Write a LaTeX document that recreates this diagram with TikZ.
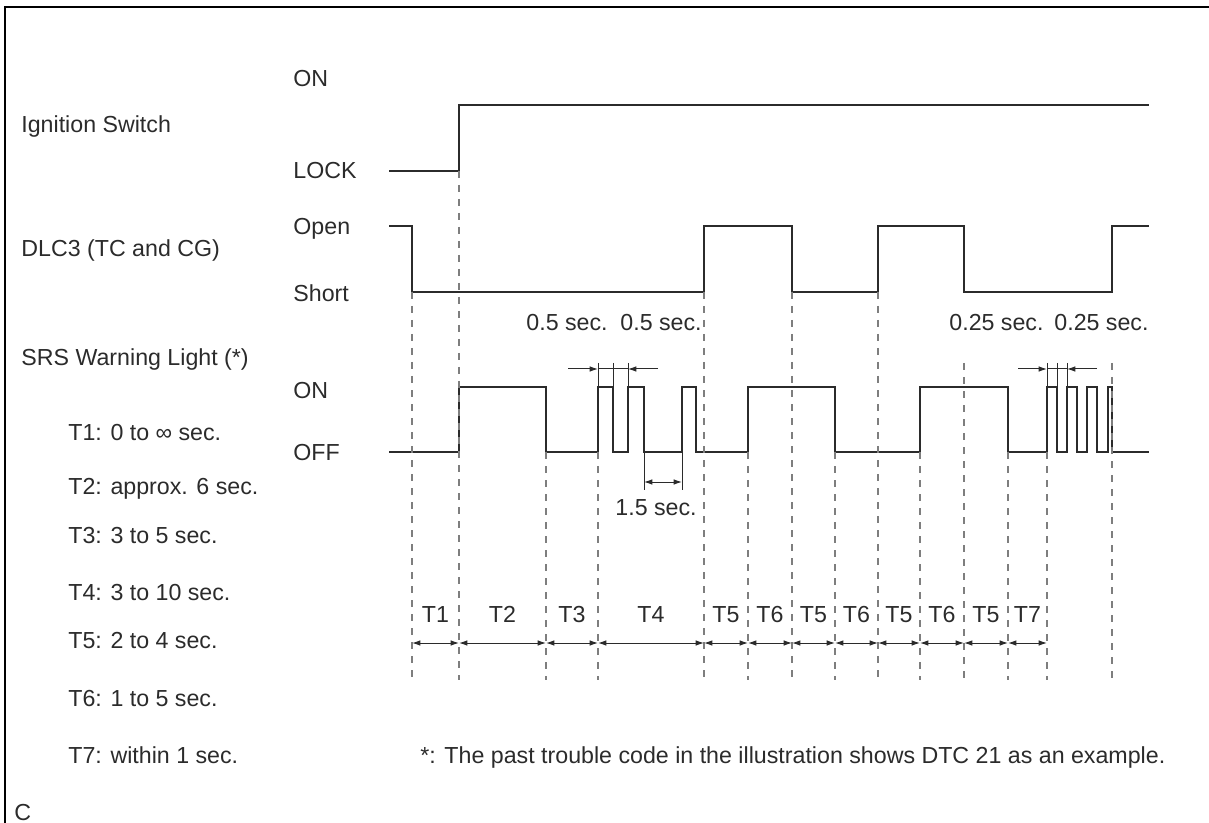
\documentclass[tikz,border=0pt]{standalone}
\usepackage{fontspec}
\setmainfont{Liberation Sans}
\usetikzlibrary{arrows.meta}
\definecolor{Ink}{HTML}{2B2B2B}
\definecolor{GuideGray}{HTML}{7E7E7E}

\begin{document}
\begin{tikzpicture}[x=0.5pt,y=-0.5pt,>={Latex[length=4.2pt,width=2.8pt]},
  every node/.style={font=\fontsize{11.6}{14}\selectfont,anchor=base west,inner sep=0pt,text=Ink},
  wave/.style={Ink,line width=1.3pt},
  guide/.style={GuideGray,line width=0.75pt,dash pattern=on 3.5pt off 3.5pt},
  dimline/.style={Ink,line width=0.5pt}]
  \useasboundingbox (0,0) rectangle (1209,823);
  \draw[black,line width=1pt] (5,823) -- (5,7) -- (1209,7);

  % signal names and levels
  \node (ign)  at (21,132.5) {Ignition Switch};
  \node (dlc)  at (21,256.5) {DLC3 (TC and CG)};
  \node (srs)  at (21,365.5) {SRS Warning Light (*)};
  \node (ignon)   at (293,86.5)  {ON};
  \node (ignlock) at (293,178.5) {LOCK};
  \node (dlcopen) at (293,235)   {Open};
  \node (dlcshort) at (293,301.5) {Short};
  \node (srson)  at (293,398.5) {ON};
  \node (srsoff) at (293,460.5) {OFF};

  % time list
  \node (t1) at (68,440.5) {T1: 0 to ∞ sec.};
  \node (t2) at (68,494.5) {T2: approx. 6 sec.};
  \node (t3) at (68,543.5) {T3: 3 to 5 sec.};
  \node (t4) at (68,600.5) {T4: 3 to 10 sec.};
  \node (t5) at (68,648.5) {T5: 2 to 4 sec.};
  \node (t6) at (68,706.5) {T6: 1 to 5 sec.};
  \node (t7) at (68,763.5) {T7: within 1 sec.};
  \node (note) at (420,763.5) {*: The past trouble code in the illustration shows DTC 21 as an example.};
  \node (code) at (14,820.5) {C};

  % waveforms
  \draw[wave] (389,171) -- (459,171) -- (459,105) -- (1149,105);
  \draw[wave] (389,226) -- (412,226) -- (412,292) -- (704,292) -- (704,226) -- (792,226)
    -- (792,292) -- (878,292) -- (878,226) -- (964,226) -- (964,292) -- (1112,292)
    -- (1112,226) -- (1149,226);
  \draw[wave] (389,452) -- (459,452) -- (459,387) -- (546,387) -- (546,452) -- (598,452)
    -- (598,387) -- (613,387) -- (613,452) -- (628,452) -- (628,387) -- (644,387)
    -- (644,452) -- (682,452) -- (682,387) -- (696,387) -- (696,452) -- (748,452)
    -- (748,387) -- (835,387) -- (835,452) -- (920,452) -- (920,387) -- (1008,387)
    -- (1008,452) -- (1047,452) -- (1047,387) -- (1057,387) -- (1057,452) -- (1067,452)
    -- (1067,387) -- (1077,387) -- (1077,452) -- (1087,452) -- (1087,387) -- (1097,387)
    -- (1097,452) -- (1108,452) -- (1108,387) -- (1112,387) -- (1112,452) -- (1149,452);

  % dashed time marks
  \draw[guide] (412,292) -- (412,680);
  \draw[guide] (459,171) -- (459,680);
  \draw[guide] (546,452) -- (546,680);
  \draw[guide] (598,452) -- (598,680);
  \draw[guide] (704,292) -- (704,680);
  \draw[guide] (748,452) -- (748,680);
  \draw[guide] (792,292) -- (792,680);
  \draw[guide] (835,452) -- (835,680);
  \draw[guide] (878,292) -- (878,680);
  \draw[guide] (920,452) -- (920,680);
  \draw[guide] (964,363) -- (964,680);
  \draw[guide] (1008,452) -- (1008,680);
  \draw[guide] (1047,452) -- (1047,680);
  \draw[guide] (1112,363) -- (1112,680);

  % 0.5 sec. pulse widths
  \node (half1) at (526,330.5) {0.5 sec.};
  \node (half2) at (620,330.5) {0.5 sec.};
  \coordinate (h0) at (568,369); \coordinate (h1) at (598,369);
  \coordinate (h2) at (613,369); \coordinate (h3) at (628,369);
  \coordinate (h4) at (658,369);
  \draw[dimline] (598,363) -- (598,387) (613,363) -- (613,387) (628,363) -- (628,387);
  \draw[dimline] (h1) -- (h3);
  \draw[dimline,->] (h0) -- (h1);
  \draw[dimline,->] (h4) -- (h3);

  % 1.5 sec. gap
  \node (gap) at (615,515.5) {1.5 sec.};
  \coordinate (g0) at (644,482); \coordinate (g1) at (682,482);
  \draw[dimline] (644,452) -- (644,490) (682,452) -- (682,490);
  \draw[dimline,<->] (g0) -- (g1);

  % 0.25 sec. pulse widths
  \node (quart1) at (949,330.5) {0.25 sec.};
  \node (quart2) at (1054,330.5) {0.25 sec.};
  \coordinate (q0) at (1018,369); \coordinate (q1) at (1047,369);
  \coordinate (q3) at (1067,369); \coordinate (q4) at (1097,369);
  \draw[dimline] (1047,363) -- (1047,387) (1057,363) -- (1057,387) (1067,363) -- (1067,387);
  \draw[dimline] (q1) -- (q3);
  \draw[dimline,->] (q0) -- (q1);
  \draw[dimline,->] (q4) -- (q3);

  % interval arrows
  \coordinate (p1) at (412,643);  \coordinate (p2) at (459,643);
  \coordinate (p3) at (546,643);  \coordinate (p4) at (598,643);
  \coordinate (p5) at (704,643);  \coordinate (p6) at (748,643);
  \coordinate (p7) at (792,643);  \coordinate (p8) at (835,643);
  \coordinate (p9) at (878,643);  \coordinate (p10) at (920,643);
  \coordinate (p11) at (964,643); \coordinate (p12) at (1008,643);
  \coordinate (p13) at (1047,643);
  \draw[dimline,<->] (p1) -- (p2);   \draw[dimline,<->] (p2) -- (p3);
  \draw[dimline,<->] (p3) -- (p4);   \draw[dimline,<->] (p4) -- (p5);
  \draw[dimline,<->] (p5) -- (p6);   \draw[dimline,<->] (p6) -- (p7);
  \draw[dimline,<->] (p7) -- (p8);   \draw[dimline,<->] (p8) -- (p9);
  \draw[dimline,<->] (p9) -- (p10);  \draw[dimline,<->] (p10) -- (p11);
  \draw[dimline,<->] (p11) -- (p12); \draw[dimline,<->] (p12) -- (p13);
  \node[anchor=base] (i1)  at (435.5,622.5)  {T1};
  \node[anchor=base] (i2)  at (502.5,622.5)  {T2};
  \node[anchor=base] (i3)  at (572,622.5)    {T3};
  \node[anchor=base] (i4)  at (651,622.5)    {T4};
  \node[anchor=base] (i5)  at (726,622.5)    {T5};
  \node[anchor=base] (i6)  at (770,622.5)    {T6};
  \node[anchor=base] (i7)  at (813.5,622.5)  {T5};
  \node[anchor=base] (i8)  at (856.5,622.5)  {T6};
  \node[anchor=base] (i9)  at (899,622.5)    {T5};
  \node[anchor=base] (i10) at (942,622.5)    {T6};
  \node[anchor=base] (i11) at (986,622.5)    {T5};
  \node[anchor=base] (i12) at (1027.5,622.5) {T7};
\end{tikzpicture}
\end{document}
